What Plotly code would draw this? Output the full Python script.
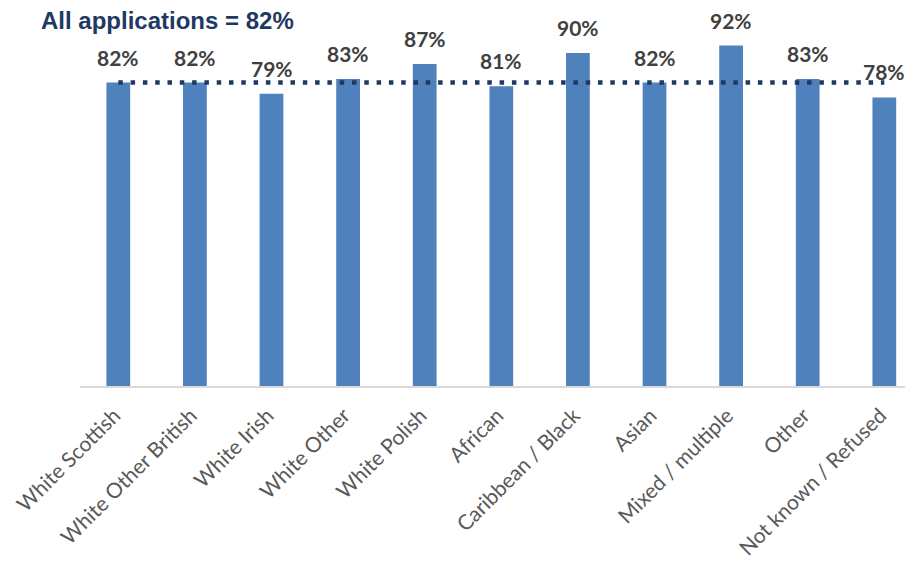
import plotly.graph_objects as go

# Share of applications by ethnic group
categories = [
    "White Scottish", "White Other British", "White Irish", "White Other",
    "White Polish", "African", "Caribbean / Black", "Asian",
    "Mixed / multiple", "Other", "Not known / Refused",
]
rates = [82, 82, 79, 83, 87, 81, 90, 82, 92, 83, 78]
all_applications = 82

BAR_BLUE = "#4F81BD"
NAVY = "#1F3864"
LABEL_GREY = "#404040"
TICK_GREY = "#595959"

fig = go.Figure()

fig.add_trace(go.Bar(
    x=categories,
    y=rates,
    width=0.31,
    marker=dict(color=BAR_BLUE, line=dict(width=0)),
    hovertemplate="%{x}: %{y}%<extra></extra>",
))

# Dotted reference line for all applications
fig.add_trace(go.Scatter(
    x=[categories[0], categories[-1]],
    y=[all_applications, all_applications],
    mode="lines",
    line=dict(color=NAVY, width=4.5, dash="4.5px,7.8px"),
    hoverinfo="skip",
))

# Value labels above each bar
for cat, val in zip(categories, rates):
    fig.add_annotation(
        x=cat, y=val, text=f"{val}%",
        showarrow=False, yanchor="bottom", yshift=11,
        font=dict(family="Lato", size=21, color=LABEL_GREY, weight="bold"),
    )

fig.update_layout(
    width=914,
    height=562,
    margin=dict(l=80, r=9, t=16, b=176, autoexpand=False),
    paper_bgcolor="white",
    plot_bgcolor="white",
    showlegend=False,
    title=dict(
        text=f"<b>All applications = {all_applications}%</b>",
        x=41 / 914, xanchor="left", xref="container",
        y=1 - 21 / 562, yanchor="middle", yref="container",
        font=dict(family="Liberation Sans", size=24, color=NAVY),
    ),
    xaxis=dict(
        type="category",
        range=[-0.5, 10.27],
        automargin=False,
        showline=True, linecolor="#D9D9D9", linewidth=2,
        showgrid=False, ticks="", tickangle=-45,
        ticklabelstandoff=7, ticklabelshift=-4,
        tickfont=dict(family="Lato", size=21, color=TICK_GREY),
    ),
    yaxis=dict(range=[0, 100], visible=False, showgrid=False, automargin=False),
)

fig.write_html("out.html")
